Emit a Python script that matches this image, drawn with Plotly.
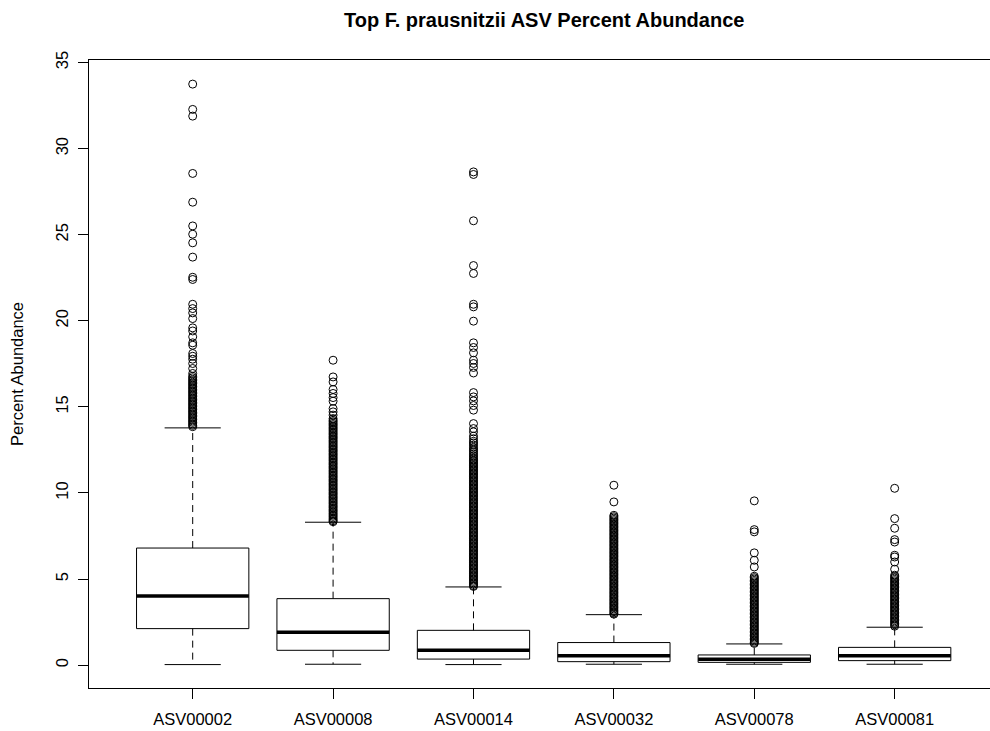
import plotly.graph_objects as go

categories = ["ASV00002", "ASV00008", "ASV00014", "ASV00032", "ASV00078", "ASV00081"]

lower_whisker = [0.03, 0.05, 0.03, 0.05, 0.05, 0.05]
q1 = [2.12, 0.86, 0.35, 0.20, 0.16, 0.26]
median = [4.02, 1.91, 0.86, 0.55, 0.34, 0.55]
q3 = [6.80, 3.86, 2.02, 1.31, 0.59, 1.03]
upper_whisker = [13.78, 8.30, 4.54, 2.93, 1.23, 2.20]

out_asv00002 = [33.75, 32.28, 31.89, 28.56, 26.89, 25.51, 25.03, 24.53, 23.70, 22.53, 22.40,
                20.96, 20.71, 20.46, 20.13, 19.59, 19.41, 19.07, 18.72, 18.58, 18.10, 17.94,
                17.77, 17.52, 17.23, 16.94,
                16.78, 16.69, 16.60, 16.52, 16.43, 16.35, 16.27, 16.18, 16.10, 16.02, 15.93,
                15.85, 15.77, 15.68, 15.60, 15.51, 15.43, 15.35, 15.26, 15.18, 15.10, 15.01,
                14.93, 14.85, 14.76, 14.68, 14.60, 14.51, 14.43, 14.35, 14.26, 14.18, 14.10,
                14.01, 13.93, 13.85]
out_asv00008 = [17.71, 16.74, 16.45, 16.01, 15.78, 15.54, 15.33, 14.90, 14.71, 14.52, 14.32,
                14.22, 14.14, 14.05, 13.97, 13.89, 13.80, 13.72, 13.64, 13.55, 13.47, 13.39,
                13.30, 13.22, 13.14, 13.05, 12.97, 12.89, 12.80, 12.72, 12.64, 12.55, 12.47,
                12.39, 12.30, 12.22, 12.14, 12.05, 11.97, 11.89, 11.80, 11.72, 11.64, 11.55,
                11.47, 11.39, 11.30, 11.22, 11.14, 11.05, 10.97, 10.89, 10.80, 10.72, 10.64,
                10.55, 10.47, 10.39, 10.30, 10.22, 10.14, 10.05, 9.97, 9.89, 9.80, 9.72, 9.64,
                9.55, 9.47, 9.39, 9.30, 9.22, 9.14, 9.05, 8.97, 8.89, 8.80, 8.72, 8.64, 8.55,
                8.47, 8.39, 8.33]
out_asv00014 = [28.65, 28.50, 25.81, 23.21, 22.75, 20.96, 20.81, 19.98, 18.72, 18.45, 18.14,
                17.71, 17.52, 17.29, 16.97, 15.83, 15.58, 15.35, 15.08, 14.81, 14.03, 13.74,
                13.55, 13.30, 13.15, 13.00, 12.90, 12.78, 12.65, 12.55, 12.45, 12.35, 12.25,
                12.15, 12.06, 11.97,
                11.90, 11.82, 11.74, 11.66, 11.58, 11.50, 11.42, 11.34, 11.26, 11.18, 11.10,
                11.02, 10.94, 10.86, 10.78, 10.70, 10.62, 10.54, 10.46, 10.38, 10.30, 10.22,
                10.14, 10.06, 9.98, 9.90, 9.82, 9.74, 9.66, 9.58, 9.50, 9.42, 9.34, 9.26, 9.18,
                9.10, 9.02, 8.94, 8.86, 8.78, 8.70, 8.62, 8.54, 8.46, 8.38, 8.30, 8.22, 8.14,
                8.06, 7.98, 7.90, 7.82, 7.74, 7.66, 7.58, 7.50, 7.42, 7.34, 7.26, 7.18, 7.10,
                7.02, 6.94, 6.86, 6.78, 6.70, 6.62, 6.54, 6.46, 6.38, 6.30, 6.22, 6.14, 6.06,
                5.98, 5.90, 5.82, 5.74, 5.66, 5.58, 5.50, 5.42, 5.34, 5.26, 5.18, 5.10, 5.02,
                4.94, 4.86, 4.78, 4.70, 4.62, 4.57]
out_asv00032 = [10.45, 9.48,
                8.70, 8.62, 8.54, 8.46, 8.38, 8.30, 8.22, 8.14, 8.06, 7.98, 7.90, 7.82, 7.74,
                7.66, 7.58, 7.50, 7.42, 7.34, 7.26, 7.18, 7.10, 7.02, 6.94, 6.86, 6.78, 6.70,
                6.62, 6.54, 6.46, 6.38, 6.30, 6.22, 6.14, 6.06, 5.98, 5.90, 5.82, 5.74, 5.66,
                5.58, 5.50, 5.42, 5.34, 5.26, 5.18, 5.10, 5.02, 4.94, 4.86, 4.78, 4.70, 4.62,
                4.54, 4.46, 4.38, 4.30, 4.22, 4.14, 4.06, 3.98, 3.90, 3.82, 3.74, 3.66, 3.58,
                3.50, 3.42, 3.34, 3.26, 3.18, 3.10, 3.02, 2.96]
out_asv00078 = [9.54, 7.87, 7.74, 6.52, 6.09, 5.70,
                5.16, 5.08, 5.00, 4.92, 4.84, 4.76, 4.68, 4.60, 4.52, 4.44, 4.36, 4.28, 4.20,
                4.12, 4.04, 3.96, 3.88, 3.80, 3.72, 3.64, 3.56, 3.48, 3.40, 3.32, 3.24, 3.16,
                3.08, 3.00, 2.92, 2.84, 2.76, 2.68, 2.60, 2.52, 2.44, 2.36, 2.28, 2.20, 2.12,
                2.04, 1.96, 1.88, 1.80, 1.72, 1.64, 1.56, 1.48, 1.40, 1.32, 1.26]
out_asv00081 = [10.27, 8.51, 7.95, 7.29, 7.15, 6.38, 6.28, 5.99, 5.57,
                5.22, 5.14, 5.06, 4.98, 4.90, 4.82, 4.74, 4.66, 4.58, 4.50, 4.42, 4.34, 4.26,
                4.18, 4.10, 4.02, 3.94, 3.86, 3.78, 3.70, 3.62, 3.54, 3.46, 3.38, 3.30, 3.22,
                3.14, 3.06, 2.98, 2.90, 2.82, 2.74, 2.66, 2.58, 2.50, 2.42, 2.34, 2.26]

outliers = [out_asv00002, out_asv00008, out_asv00014, out_asv00032, out_asv00078, out_asv00081]

y_ticks = [0, 5, 10, 15, 20, 25, 30, 35]

FONT = "Liberation Sans, Arial, Helvetica, sans-serif"
BOX_HALF = 0.4
CAP_HALF = 0.2
DASH = "7px,5px"

fig = go.Figure()

for i, cat in enumerate(categories):
    x = i + 1
    # whiskers (dashed)
    fig.add_trace(go.Scatter(
        x=[x, x, None, x, x],
        y=[q3[i], upper_whisker[i], None, q1[i], lower_whisker[i]],
        mode="lines", line=dict(color="black", width=1, dash=DASH),
        showlegend=False, hoverinfo="skip"))
    # staples
    fig.add_trace(go.Scatter(
        x=[x - CAP_HALF, x + CAP_HALF, None, x - CAP_HALF, x + CAP_HALF],
        y=[upper_whisker[i], upper_whisker[i], None, lower_whisker[i], lower_whisker[i]],
        mode="lines", line=dict(color="black", width=1),
        showlegend=False, hoverinfo="skip"))
    # box
    fig.add_trace(go.Scatter(
        x=[x - BOX_HALF, x + BOX_HALF, x + BOX_HALF, x - BOX_HALF, x - BOX_HALF],
        y=[q1[i], q1[i], q3[i], q3[i], q1[i]],
        mode="lines", line=dict(color="black", width=1),
        showlegend=False, hoverinfo="skip"))
    # median
    fig.add_trace(go.Scatter(
        x=[x - BOX_HALF, x + BOX_HALF],
        y=[median[i], median[i]],
        mode="lines", line=dict(color="black", width=3.5),
        showlegend=False, hoverinfo="skip"))
    # outliers
    fig.add_trace(go.Scatter(
        x=[x] * len(outliers[i]), y=outliers[i],
        mode="markers",
        marker=dict(symbol="circle-open", size=8, color="black", line=dict(width=1, color="black")),
        showlegend=False, name=cat))

fig.update_layout(
    width=990, height=731,
    margin=dict(l=89, r=0, t=60, b=43),
    paper_bgcolor="white", plot_bgcolor="white",
    font=dict(family=FONT, size=16.5, color="black"),
    xaxis=dict(
        range=[0.2614, 6.679], tickvals=[1, 2, 3, 4, 5, 6], ticktext=categories,
        showgrid=False, zeroline=False, showline=True, mirror=True,
        linecolor="black", linewidth=1,
        ticks="outside", ticklen=10, tickcolor="black", tickwidth=1,
        ticklabelstandoff=6,
        tickfont=dict(family=FONT, size=16.5, color="black")),
    yaxis=dict(
        range=[-1.33, 35.15], tickvals=y_ticks, ticktext=[str(v) for v in y_ticks],
        showgrid=False, zeroline=False, showline=True, mirror=False,
        linecolor="black", linewidth=1,
        ticks="outside", ticklen=10, tickcolor="black", tickwidth=1,
        tickangle=-90, ticklabelstandoff=3,
        tickfont=dict(family=FONT, size=16.5, color="black")),
    annotations=[
        dict(text="<b>Top F. prausnitzii ASV Percent Abundance</b>",
             xref="paper", yref="paper", x=(543.6 - 89) / 901, y=1 + (60 - 20) / 628,
             xanchor="center", yanchor="middle", showarrow=False,
             font=dict(family=FONT, size=20, color="black")),
        dict(text="Percent Abundance", textangle=-90,
             xref="paper", yref="paper", x=(17 - 89) / 901, y=0.5,
             xanchor="center", yanchor="middle", showarrow=False,
             font=dict(family=FONT, size=16.5, color="black")),
    ],
)

fig.write_html("out.html")
